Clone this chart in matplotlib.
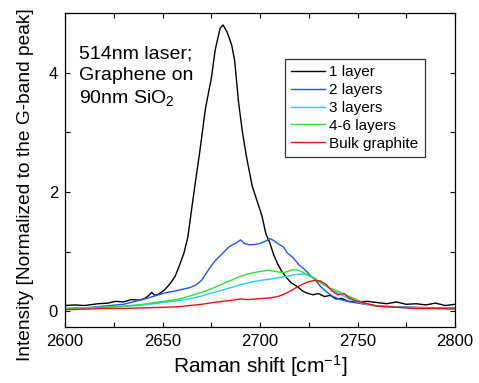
import matplotlib
matplotlib.use("Agg")
import matplotlib.pyplot as plt
from matplotlib.ticker import MultipleLocator

plt.rcParams['font.family'] = ['Liberation Sans', 'DejaVu Sans']
plt.rcParams['mathtext.fontset'] = 'custom'
plt.rcParams['mathtext.rm'] = 'Liberation Sans'
plt.rcParams['mathtext.it'] = 'Liberation Sans'

# valeurs (Raman shift en cm^-1, intensite normalisee)
x_1layer = [2600, 2605, 2610, 2617, 2622, 2626, 2630, 2634, 2638, 2641,
            2643, 2644.5, 2646, 2648, 2651, 2654, 2656.5, 2659, 2661, 2663,
            2665.5, 2667, 2669, 2672, 2675, 2677, 2679.5, 2681, 2683, 2685.5,
            2687, 2689, 2691, 2693, 2696, 2699, 2701, 2703, 2705, 2707,
            2709, 2711, 2713.5, 2716, 2719, 2722, 2724, 2727, 2730, 2733,
            2736, 2739, 2742, 2745, 2750, 2755, 2760, 2765, 2770, 2775,
            2780, 2785, 2790, 2795, 2800]
y_1layer = [0.10, 0.11, 0.10, 0.13, 0.14, 0.17, 0.16, 0.20, 0.19, 0.22,
            0.27, 0.32, 0.27, 0.29, 0.36, 0.47, 0.59, 0.80, 0.98, 1.25,
            1.85, 2.20, 2.65, 3.40, 3.90, 4.38, 4.74, 4.80, 4.69, 4.46,
            4.20, 3.50, 3.00, 2.60, 2.10, 1.80, 1.60, 1.30, 1.15, 0.95,
            0.80, 0.68, 0.57, 0.48, 0.42, 0.34, 0.31, 0.28, 0.30, 0.25,
            0.27, 0.21, 0.22, 0.17, 0.16, 0.17, 0.15, 0.13, 0.16, 0.12,
            0.13, 0.11, 0.14, 0.10, 0.12]

x_2layers = [2600, 2610, 2620, 2630, 2636, 2642, 2647, 2651, 2656, 2660,
             2664, 2667, 2670, 2672, 2674, 2677, 2681, 2684, 2686, 2688,
             2690, 2692, 2694, 2697, 2700, 2703, 2705, 2707, 2709, 2712,
             2714, 2717, 2720, 2723, 2726, 2729, 2731, 2734, 2737, 2741,
             2745, 2750, 2756, 2762, 2770, 2780, 2790, 2800]
y_2layers = [0.05, 0.06, 0.09, 0.12, 0.17, 0.22, 0.27, 0.31, 0.34, 0.37,
             0.40, 0.44, 0.52, 0.62, 0.72, 0.85, 0.98, 1.08, 1.12, 1.15,
             1.20, 1.14, 1.12, 1.12, 1.14, 1.18, 1.22, 1.19, 1.14, 1.08,
             0.98, 0.90, 0.78, 0.70, 0.60, 0.50, 0.42, 0.33, 0.26, 0.20,
             0.17, 0.14, 0.11, 0.09, 0.08, 0.07, 0.06, 0.06]

x_3layers = [2600, 2610, 2620, 2630, 2640, 2648, 2655, 2660, 2665, 2670,
             2675, 2681, 2686, 2690, 2695, 2700, 2705, 2710, 2714, 2718,
             2722, 2725, 2728, 2731, 2735, 2740, 2745, 2750, 2756, 2762,
             2770, 2780, 2790, 2800]
y_3layers = [0.05, 0.06, 0.07, 0.08, 0.11, 0.14, 0.17, 0.19, 0.22, 0.26,
             0.31, 0.36, 0.41, 0.45, 0.49, 0.52, 0.54, 0.57, 0.59, 0.62,
             0.63, 0.61, 0.56, 0.49, 0.40, 0.31, 0.22, 0.16, 0.11, 0.08,
             0.07, 0.06, 0.05, 0.05]

x_46layers = [2600, 2610, 2620, 2630, 2640, 2648, 2655, 2660, 2665, 2670,
              2675, 2680, 2685, 2690, 2695, 2700, 2704, 2708, 2712, 2715,
              2717, 2720, 2723, 2726, 2729, 2732, 2736, 2740, 2744, 2748,
              2752, 2756, 2760, 2770, 2780, 2790, 2800]
y_46layers = [0.05, 0.06, 0.07, 0.09, 0.12, 0.16, 0.19, 0.22, 0.27, 0.32,
              0.38, 0.45, 0.52, 0.59, 0.64, 0.67, 0.69, 0.67, 0.65, 0.68,
              0.70, 0.69, 0.64, 0.58, 0.52, 0.46, 0.39, 0.34, 0.28, 0.22,
              0.16, 0.12, 0.09, 0.07, 0.06, 0.06, 0.05]

x_bulk = [2600, 2610, 2620, 2630, 2640, 2650, 2658, 2664, 2670, 2676,
          2681, 2686, 2690, 2694, 2698, 2702, 2706, 2710, 2713, 2716,
          2719, 2722, 2725, 2728, 2731, 2734, 2737, 2740, 2743, 2746,
          2750, 2755, 2760, 2770, 2780, 2790, 2800]
y_bulk = [0.03, 0.04, 0.05, 0.05, 0.06, 0.07, 0.08, 0.10, 0.12, 0.15,
          0.17, 0.19, 0.21, 0.20, 0.21, 0.22, 0.23, 0.26, 0.30, 0.35,
          0.41, 0.46, 0.50, 0.52, 0.51, 0.45, 0.34, 0.28, 0.30, 0.22,
          0.17, 0.13, 0.09, 0.07, 0.05, 0.05, 0.04]

fig = plt.figure(figsize=(4.79, 3.83), dpi=100)
ax = fig.add_axes([0.1357, 0.1462, 0.8143, 0.8198])

ax.plot(x_1layer, y_1layer, color='black', lw=1.0, label='1 layer')
ax.plot(x_2layers, y_2layers, color='#2255ee', lw=1.0, label='2 layers')
ax.plot(x_3layers, y_3layers, color='#22ccff', lw=1.0, label='3 layers')
ax.plot(x_46layers, y_46layers, color='#33dd33', lw=1.0, label='4-6 layers')
ax.plot(x_bulk, y_bulk, color='#ee1111', lw=1.0, label='Bulk graphite')

ax.set_xlim(2600, 2800)
ax.set_ylim(-0.26, 5.0)
ax.xaxis.set_major_locator(MultipleLocator(50))
ax.xaxis.set_minor_locator(MultipleLocator(25))
ax.yaxis.set_major_locator(MultipleLocator(2))
ax.yaxis.set_minor_locator(MultipleLocator(1))
ax.tick_params(which='both', direction='in', top=True, right=True,
               length=3.5, width=0.8, labelsize=12, pad=5)
for s in ax.spines.values():
    s.set_linewidth(0.9)

ax.set_xlabel('Raman shift [cm$^{-1}$]', fontsize=15, labelpad=3)
ax.set_ylabel('Intensity [Normalized to the G-band peak]', fontsize=13.8)
ax.yaxis.set_label_coords(-0.079, 0.452)

ax.text(0.035, 0.895, '514nm laser;\nGraphene on\n90nm SiO$_2$',
        transform=ax.transAxes, fontsize=14, va='top', linespacing=1.3)

leg = ax.legend(loc='upper left', bbox_to_anchor=(0.564, 0.853), fontsize=11,
                frameon=True, fancybox=False, edgecolor='black',
                handlelength=2.2, handletextpad=0.3, labelspacing=0.25,
                borderpad=0.4, borderaxespad=0)
leg.get_frame().set_linewidth(0.9)

fig.savefig('out.png', dpi=100)
